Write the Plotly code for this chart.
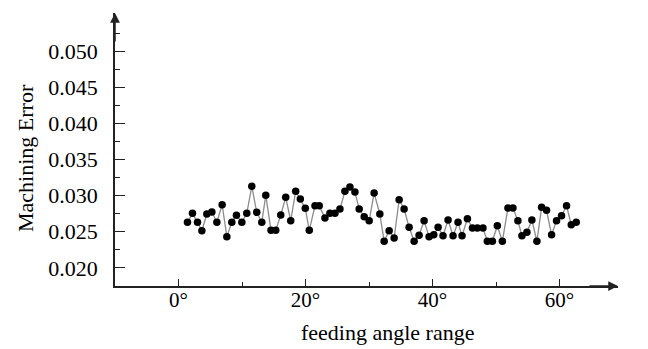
import plotly.graph_objects as go

angle_deg = [1.41, 2.20, 2.99, 3.68, 4.46, 5.25, 6.04, 6.87, 7.61, 8.39,
             9.12, 9.97, 10.75, 11.54, 12.32, 13.11, 13.74, 14.57, 15.31, 16.10,
             16.88, 17.67, 18.45, 19.18, 19.96, 20.59, 21.49, 22.16, 23.06, 23.84,
             24.63, 25.42, 26.20, 26.99, 27.78, 28.45, 29.24, 30.02, 30.80, 31.70,
             32.38, 33.17, 33.95, 34.74, 35.52, 36.31, 37.10, 37.88, 38.67, 39.45,
             40.19, 40.87, 41.65, 42.44, 43.23, 44.01, 44.64, 45.49, 46.28, 47.06,
             47.94, 48.63, 49.42, 50.20, 50.99, 51.87, 52.66, 53.44, 54.07, 54.86,
             55.64, 56.43, 57.17, 57.95, 58.74, 59.52, 60.31, 61.10, 61.84, 62.62]
machining_error = [0.02630, 0.02755, 0.02630, 0.02514, 0.02745, 0.02773, 0.02630, 0.02874, 0.02431, 0.02630,
                   0.02727, 0.02630, 0.02755, 0.03129, 0.02769, 0.02630, 0.03004, 0.02519, 0.02519, 0.02731,
                   0.02976, 0.02652, 0.03060, 0.02953, 0.02824, 0.02519, 0.02860, 0.02860, 0.02690, 0.02755,
                   0.02755, 0.02814, 0.03060, 0.03119, 0.03050, 0.02814, 0.02708, 0.02652, 0.03036, 0.02745,
                   0.02367, 0.02514, 0.02413, 0.02943, 0.02814, 0.02561, 0.02367, 0.02450, 0.02652, 0.02431,
                   0.02458, 0.02561, 0.02445, 0.02662, 0.02445, 0.02630, 0.02445, 0.02680, 0.02551, 0.02551,
                   0.02551, 0.02367, 0.02367, 0.02583, 0.02367, 0.02828, 0.02828, 0.02652, 0.02445, 0.02492,
                   0.02662, 0.02367, 0.02838, 0.02796, 0.02458, 0.02652, 0.02722, 0.02860, 0.02597, 0.02630]

x_tickvals = [0, 20, 40, 60]
x_ticktext = ["0°", "20°", "40°", "60°"]
y_tickvals = [0.020, 0.025, 0.030, 0.035, 0.040, 0.045, 0.050]
y_ticktext = ["0.020", "0.025", "0.030", "0.035", "0.040", "0.045", "0.050"]

FONT = "Liberation Serif, Times New Roman, serif"
X_MIN, X_MAX = -10, 69.2
Y_MIN, Y_MAX = 0.01748, 0.0553

L, R, T, B = 115, 30, 13, 63
PW, PH = 648 - L - R, 349 - T - B

fig = go.Figure()
fig.add_trace(go.Scatter(
    x=angle_deg, y=machining_error, mode="lines+markers",
    line=dict(color="#8c8c8c", width=1.3),
    marker=dict(color="black", size=7.5),
    showlegend=False, hoverinfo="skip",
))

fig.update_layout(
    width=648, height=349,
    margin=dict(l=L, r=R, t=T, b=B, autoexpand=False),
    paper_bgcolor="white", plot_bgcolor="white",
    font=dict(family=FONT, size=21, color="black"),
    xaxis=dict(
        range=[X_MIN, X_MAX], showgrid=False, zeroline=False,
        showline=True, linecolor="#222", linewidth=1.5,
        tickmode="array", tickvals=x_tickvals, ticktext=x_ticktext,
        ticks="inside", ticklen=7, tickwidth=1.3, tickcolor="#222",
        minor=dict(tickmode="array", tickvals=[10, 30, 50], ticks="inside",
                   ticklen=4, tickwidth=1.3, tickcolor="#222"),
        tickfont=dict(family=FONT, size=21, color="black"),
        ticklabelstandoff=-6,
    ),
    yaxis=dict(
        range=[Y_MIN, Y_MAX], showgrid=False, zeroline=False,
        showline=True, linecolor="#222", linewidth=1.5,
        tickmode="array", tickvals=y_tickvals, ticktext=y_ticktext,
        ticks="inside", ticklen=10, tickwidth=1.3, tickcolor="#222",
        minor=dict(tickmode="array",
                   tickvals=[0.0225, 0.0275, 0.0325, 0.0375, 0.0425, 0.0475, 0.0525],
                   ticks="inside", ticklen=5, tickwidth=1.3, tickcolor="#222"),
        tickfont=dict(family=FONT, size=22, color="black"),
        ticklabelstandoff=11,
    ),
)

# axis arrowheads
fig.add_annotation(x=X_MAX, y=Y_MIN, xref="x", yref="y", ax=-30, ay=0,
                   text="", showarrow=True, arrowhead=2, arrowsize=1.3,
                   arrowwidth=1.5, arrowcolor="#222")
fig.add_annotation(x=X_MIN, y=Y_MAX, xref="x", yref="y", ax=0, ay=30,
                   text="", showarrow=True, arrowhead=2, arrowsize=1.3,
                   arrowwidth=1.5, arrowcolor="#222")

# axis titles (positions in plot-area paper fractions)
fig.add_annotation(x=(387 - L) / PW, y=((349 - B) - 332) / PH, xref="paper", yref="paper",
                   text="feeding angle range", showarrow=False,
                   font=dict(family=FONT, size=22, color="black"),
                   xanchor="center", yanchor="middle")
fig.add_annotation(x=(25 - L) / PW, y=((349 - B) - 158) / PH, xref="paper", yref="paper",
                   text="Machining Error", showarrow=False, textangle=-90,
                   font=dict(family=FONT, size=22, color="black"),
                   xanchor="center", yanchor="middle")

fig.write_html("out.html", config={"displayModeBar": False},
               post_script="document.body.style.margin='0';")
